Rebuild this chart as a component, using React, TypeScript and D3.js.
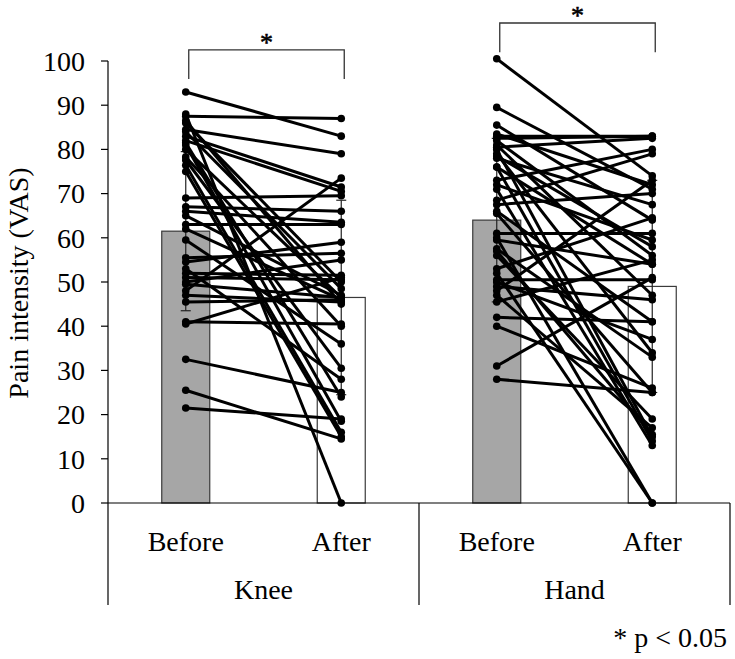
import React from "react";
import * as d3 from "d3";

// ---- data ----
const groups = ["Knee", "Hand"];
const phases = ["Before", "After"];
const yTicks = [0, 10, 20, 30, 40, 50, 60, 70, 80, 90, 100];

const barMeans = [61.5, 46.5, 64, 49];
const barSD = [18, 22, 18.5, 24];

const kneeBefore = [93, 88, 87.5, 86.5, 84.5, 83, 82, 81.5, 81, 78.3, 77.6, 76.4, 75, 69, 67, 66, 65, 63, 59.5, 55.5, 54.5, 53, 52, 51, 50, 49.5, 48, 47, 45.5, 41, 40.5, 32.5, 25.5, 21.5, 86, 80, 84, 62];
const kneeAfter = [83, 0, 87, 45, 79, 71.5, 70.5, 24, 18.5, 40, 30.5, 16, 15, 69.5, 66, 63.5, 47, 63, 36, 56.5, 59, 28, 51.5, 50.5, 55, 46.5, 73.5, 45.5, 46, 40.5, 51, 25, 14.5, 19, 50, 46.5, 48.5, 46];

const handBefore = [100.5, 89.5, 85.5, 83, 82.5, 82, 81, 80, 79, 78, 76, 73, 72, 68.5, 67.5, 65.5, 61, 59.5, 57.5, 56, 52, 50.5, 49, 48, 47, 45.5, 42, 40, 31, 28, 60, 57, 50, 78.5, 66, 53, 83.5, 71, 80.5, 76];
const handAfter = [74, 71, 64, 83, 83, 56, 47, 15, 34, 67.5, 14, 80, 59.5, 79, 70, 25, 61, 54, 33, 19, 0, 50.5, 46, 73, 17, 55, 41, 26, 51, 25, 0, 15.5, 37, 58, 41, 64.5, 72, 13, 82.5, 54];

const pairs = [
  { before: kneeBefore, after: kneeAfter },
  { before: handBefore, after: handAfter },
];
const sigTop = [102.5, 108.6];
const sigLeg = [95.9, 102];

const W = 735;
const H = 659;
const FONT = "'Liberation Serif', 'Times New Roman', serif";

export default function App() {
  const cats = groups.flatMap((g) => phases.map((p) => `${g}-${p}`));
  const x = d3.scaleBand<string>().domain(cats).range([108, 730]).padding(0);
  const y = d3.scaleLinear().domain([0, 100]).range([503, 61]);
  const cx = (c: string) => (x(c) as number) + x.bandwidth() / 2;
  const barW = 48;

  return (
    <svg width={W} height={H} style={{ position: "absolute", left: 0, top: 0 }} fontFamily={FONT}>
      <rect width={W} height={H} fill="#fff" />
      {/* bars */}
      {cats.map((c, i) => (
        <rect
          key={c}
          x={cx(c) - barW / 2}
          y={y(barMeans[i])}
          width={barW}
          height={y(0) - y(barMeans[i])}
          fill={i % 2 === 0 ? "#a6a6a6" : "#ffffff"}
          stroke="#3a3a3a"
          strokeWidth={1.2}
        />
      ))}
      {/* error bars */}
      {cats.map((c, i) => (
        <g key={"e" + c} stroke="#222" strokeWidth={1.2}>
          <line x1={cx(c)} x2={cx(c)} y1={y(barMeans[i] + barSD[i])} y2={y(barMeans[i] - barSD[i])} />
          <line x1={cx(c) - 5} x2={cx(c) + 5} y1={y(barMeans[i] + barSD[i])} y2={y(barMeans[i] + barSD[i])} />
          <line x1={cx(c) - 5} x2={cx(c) + 5} y1={y(barMeans[i] - barSD[i])} y2={y(barMeans[i] - barSD[i])} />
        </g>
      ))}
      {/* paired lines */}
      {pairs.map((p, gi) => {
        const xb = cx(`${groups[gi]}-Before`);
        const xa = cx(`${groups[gi]}-After`);
        return (
          <g key={"p" + gi}>
            {p.before.map((b, k) => (
              <line key={k} x1={xb} y1={y(b)} x2={xa} y2={y(p.after[k])} stroke="#000" strokeWidth={3} />
            ))}
            {p.before.map((b, k) => (
              <circle key={"b" + k} cx={xb} cy={y(b)} r={3.8} fill="#000" />
            ))}
            {p.after.map((a, k) => (
              <circle key={"a" + k} cx={xa} cy={y(a)} r={3.8} fill="#000" />
            ))}
          </g>
        );
      })}
      {/* y axis */}
      <line x1={108} x2={108} y1={y(100)} y2={605} stroke="#000" strokeWidth={1.2} />
      {yTicks.map((t) => (
        <g key={t}>
          <line x1={101} x2={108} y1={y(t)} y2={y(t)} stroke="#000" strokeWidth={1.2} />
          <text x={85} y={y(t)} dy="0.35em" textAnchor="end" fontSize={28}>
            {t}
          </text>
        </g>
      ))}
      <text transform={`translate(28,${(y(0) + y(100)) / 2 + 1}) rotate(-90)`} textAnchor="middle" fontSize={28}>
        Pain intensity (VAS)
      </text>
      {/* x axis */}
      <line x1={108} x2={730} y1={y(0)} y2={y(0)} stroke="#000" strokeWidth={1.2} />
      {[0, 1].map((gi) => {
        const xr = (x(`${groups[gi]}-After`) as number) + x.bandwidth();
        return <line key={"d" + gi} x1={xr} x2={xr} y1={y(0)} y2={605} stroke="#000" strokeWidth={1.2} />;
      })}
      {cats.map((c, i) => (
        <text key={"l" + c} x={cx(c)} y={551} textAnchor="middle" fontSize={28}>
          {phases[i % 2]}
        </text>
      ))}
      {groups.map((g) => {
        const mid = ((x(`${g}-Before`) as number) + (x(`${g}-After`) as number) + x.bandwidth()) / 2;
        return (
          <text key={g} x={mid} y={599} textAnchor="middle" fontSize={28}>
            {g}
          </text>
        );
      })}
      {/* significance */}
      {groups.map((g, gi) => {
        const x1 = cx(`${g}-Before`) + 3;
        const x2 = cx(`${g}-After`) + 3;
        return (
          <g key={"s" + g}>
            <path
              d={`M${x1},${y(sigLeg[gi])}V${y(sigTop[gi])}H${x2}V${y(sigLeg[gi])}`}
              fill="none"
              stroke="#333"
              strokeWidth={1.3}
            />
            <text x={(x1 + x2) / 2} y={y(sigTop[gi]) + 1} textAnchor="middle" fontSize={26} stroke="#000" strokeWidth={0.6}>
              *
            </text>
          </g>
        );
      })}
      <text x={727} y={647} textAnchor="end" fontSize={28}>
        * p &lt; 0.05
      </text>
    </svg>
  );
}
